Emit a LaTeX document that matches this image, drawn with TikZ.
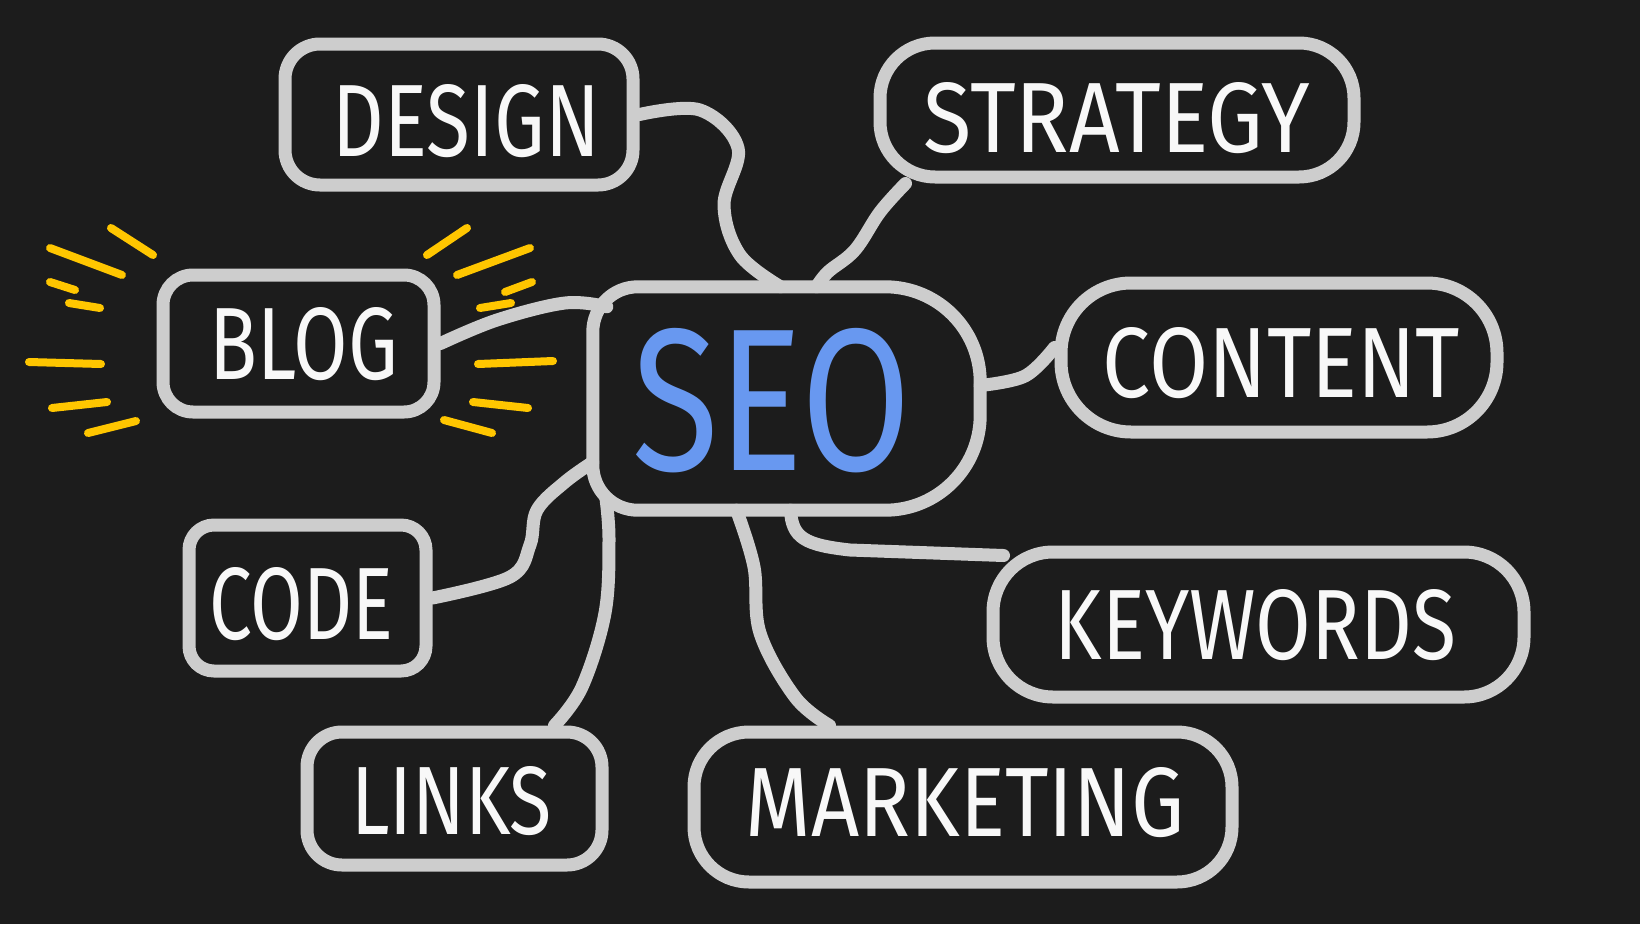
\documentclass[tikz,border=0pt]{standalone}
\usepackage{fontspec}
\setmainfont{Fira Sans}
\usetikzlibrary{calc}
\definecolor{board}{RGB}{28,28,28}
\definecolor{chalk}{RGB}{205,205,205}
\definecolor{chalktext}{RGB}{248,248,248}
\definecolor{seoblue}{RGB}{104,152,240}
\definecolor{raycol}{RGB}{255,198,0}
\begin{document}
\begin{tikzpicture}[x=1pt,y=-1pt,
  box/.style={draw=chalk, line width=13pt, rounded corners=#1, inner sep=0pt},
  box/.default=35pt,
  word/.style={text=chalktext, inner sep=0pt},
  link/.style={draw=chalk, line width=13pt, line cap=round, line join=round},
  rayline/.style={draw=raycol, line width=8pt, line cap=round}]
\fill[board] (0,0) rectangle (1640,924);
\useasboundingbox (0,0) rectangle (1640,924);

% boxes
\node[box=35pt, minimum width=348pt, minimum height=141pt] (design) at (459,114.5) {};
\node[box=55pt, minimum width=474pt, minimum height=134pt] (strategy) at (1117,110) {};
\node[box=30pt, minimum width=271pt, minimum height=137pt] (blog) at (298.5,343.5) {};
\node[inner sep=0pt, minimum width=387pt, minimum height=223pt] (seo) at (786.5,398.5) {};
\draw[link, rounded corners=45pt] (seo.north) -- (seo.north west) -- (seo.south west) -- (seo.south)
  [rounded corners=95pt] -- (seo.south east) -- (seo.north east) -- (seo.north);
\node[box=70pt, minimum width=436pt, minimum height=149pt] (content) at (1279,357.5) {};
\node[box=60pt, minimum width=531pt, minimum height=145pt] (keywords) at (1258.5,624.5) {};
\node[box=55pt, minimum width=538pt, minimum height=150pt] (marketing) at (963,807) {};
\node[box=25pt, minimum width=237pt, minimum height=146pt] (code) at (307.5,598) {};
\node[box=35pt, minimum width=295pt, minimum height=133pt] (links) at (454.5,798.5) {};

% words
\node[word] (designT) at (466.5,121) {\resizebox{267pt}{72pt}{DESIGN}};
\node[word] (strategyT) at (1117,118) {\resizebox{386pt}{70pt}{STRATEGY}};
\node[word] (blogT) at (304,344) {\resizebox{188pt}{72pt}{BLOG}};
\node[word, text=seoblue] (seoT) at (772,401) {\resizebox{279pt}{142pt}{SEO}};
\node[word] (contentT) at (1281.5,363) {\resizebox{357pt}{70pt}{CONTENT}};
\node[word] (keywordsT) at (1255.5,625) {\resizebox{401pt}{70pt}{KEYWORDS}};
\node[word] (marketingT) at (965,802.5) {\resizebox{438pt}{69pt}{MARKETING}};
\node[word] (codeT) at (301,604) {\resizebox{184pt}{72pt}{CODE}};
\node[word] (linksT) at (451.5,801) {\resizebox{201pt}{68pt}{LINKS}};

% connectors
\draw[link] plot[smooth, tension=0.6] coordinates {(design.east) (700,110) (738,148) (724,205) (740,255) ($(seo.north)+(-6,0)$)};
\draw[link] plot[smooth, tension=0.6] coordinates {($(strategy.south west)+(32,0)$) (880,212) (855,250) (828,272) ($(seo.north)+(30,0)$)};
\draw[link] plot[smooth, tension=0.6] coordinates {($(seo.east)+(0,-13)$) (1025,376) ($(content.west)+(0,-10)$)};
\draw[link] plot[smooth, tension=0.6] coordinates {(blog.east) (497,320) (565,303) ($(seo.north west)+(14,20)$)};
\draw[link] plot[smooth, tension=0.6] coordinates {(code.east) (510,577) (530,545) (537,510) (565,482) ($(seo.south west)+(0,-48)$)};
\draw[link] plot[smooth, tension=0.6] coordinates {($(seo.south west)+(13,-13)$) (609,540) (605,613) (582,687) ($(links.north east)+(-54,0)$)};
\draw[link] plot[smooth, tension=0.6] coordinates {($(seo.south)+(-50,0)$) (754,567) (760,633) (795,697) ($(marketing.north west)+(142,0)$)};
\draw[link] ($(seo.south)+(4,0)$) .. controls (792,538) and (805,545) .. (850,550) -- ($(keywords.north west)+(17,10)$);

% yellow rays around BLOG
\draw[rayline] (111,228) -- (153,255);
\draw[rayline] (50,248) -- (122,275);
\draw[rayline] (50,282) -- (75,290);
\draw[rayline] (69,303) -- (100,308);
\draw[rayline] (29,362) -- (101,364);
\draw[rayline] (52,408) -- (107,402);
\draw[rayline] (88,433) -- (136,421);
\draw[rayline] (427,255) -- (467,228);
\draw[rayline] (457,275) -- (530,248);
\draw[rayline] (505,292) -- (532,282);
\draw[rayline] (480,308) -- (511,303);
\draw[rayline] (478,364) -- (553,361);
\draw[rayline] (473,402) -- (528,408);
\draw[rayline] (444,420) -- (492,433);
\end{tikzpicture}
\end{document}
